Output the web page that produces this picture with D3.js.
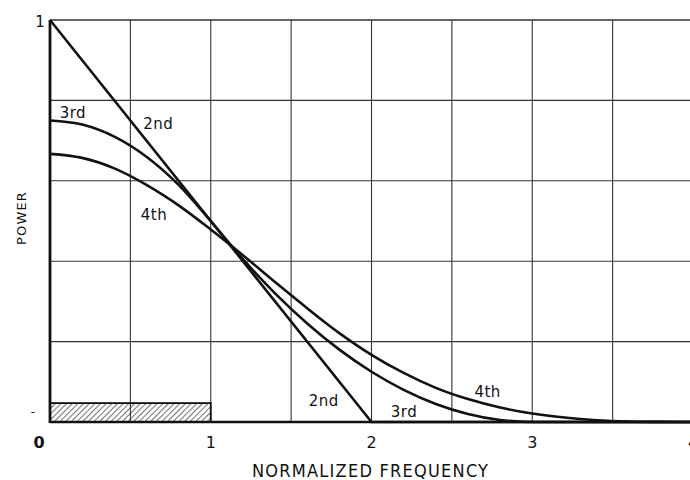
<!DOCTYPE html>
<html><head><meta charset="utf-8">
<script src="https://cdn.jsdelivr.net/npm/d3@7"></script>
<style>
body{margin:0;background:#fff;}
text{font-family:"DejaVu Sans",sans-serif;fill:#111;}
</style></head>
<body><svg id="c" width="690" height="480"></svg>
<script>
// Data
const second = [[0,1],[2,0],[4,0]];
const thirdX = [0,0.2,0.4,0.6,0.8,1.0,1.2,1.4,1.6,1.8,2.0,2.2,2.4,2.6,2.8,3.0,4.0];
const thirdY = [0.75,0.74,0.71,0.66,0.59,0.50,0.405,0.32,0.245,0.18,0.125,0.08,0.045,0.02,0.005,0,0];
const fourthX = [0,0.2,0.4,0.6,0.8,1.0,1.2,1.4,1.6,1.8,2.0,2.2,2.4,2.6,2.8,3.0,3.2,3.4,3.6,3.8,4.0];
const fourthY = [0.667,0.657,0.631,0.59,0.539,0.479,0.415,0.348,0.283,0.221,0.167,0.122,0.085,0.057,0.036,0.021,0.011,0.0045,0.0013,0.0002,0];
const xTicks = [0,1,2,3,4];
const xGrid = [0.5,1,1.5,2,2.5,3,3.5];
const yGrid = [0.2,0.4,0.6,0.8,1];
const passband = [0,1,0.047];
const labels = [
  {t:"3rd",x:0.06,y:0.755},{t:"2nd",x:0.58,y:0.728},{t:"4th",x:0.565,y:0.502},
  {t:"2nd",x:1.61,y:0.04},{t:"3rd",x:2.12,y:0.012},{t:"4th",x:2.64,y:0.063}
];

const svg = d3.select("#c");
const x = d3.scaleLinear().domain([0,4]).range([50,693]);
const y = d3.scaleLinear().domain([0,1]).range([422,20]);

// grid
svg.selectAll(".vg").data(xGrid).enter().append("line")
  .attr("x1",d=>x(d)).attr("x2",d=>x(d)).attr("y1",y(0)).attr("y2",y(1))
  .attr("stroke","#333").attr("stroke-width",1.1);
svg.selectAll(".hg").data(yGrid).enter().append("line")
  .attr("x1",x(0)).attr("x2",690).attr("y1",d=>y(d)).attr("y2",d=>y(d))
  .attr("stroke","#333").attr("stroke-width",d=>d===1?1.6:1.1);

// hatch
const defs = svg.append("defs");
const pat = defs.append("pattern").attr("id","hatch").attr("patternUnits","userSpaceOnUse")
  .attr("width",4).attr("height",4).attr("patternTransform","rotate(45)");
pat.append("line").attr("x1",0).attr("y1",0).attr("x2",0).attr("y2",4)
  .attr("stroke","#111").attr("stroke-width",1.2);
svg.append("rect").attr("x",x(passband[0])).attr("y",y(passband[2]))
  .attr("width",x(passband[1])-x(passband[0])).attr("height",y(0)-y(passband[2]))
  .attr("fill","url(#hatch)").attr("stroke","#111").attr("stroke-width",1.8);

// axes
svg.append("line").attr("x1",x(0)).attr("x2",x(0)).attr("y1",y(0)+1).attr("y2",y(1))
  .attr("stroke","#111").attr("stroke-width",2.8);
svg.append("line").attr("x1",x(0)).attr("x2",690).attr("y1",y(0)).attr("y2",y(0))
  .attr("stroke","#111").attr("stroke-width",2.4);

// curves
const line = d3.line().x(d=>x(d[0])).y(d=>y(d[1])).curve(d3.curveMonotoneX);
const straight = d3.line().x(d=>x(d[0])).y(d=>y(d[1]));
const series = [
  second,
  thirdX.map((v,i)=>[v,thirdY[i]]),
  fourthX.map((v,i)=>[v,fourthY[i]])
];
series.forEach((s,i)=>{
  svg.append("path").datum(s).attr("d", i===0 ? straight(s) : line(s))
    .attr("fill","none").attr("stroke","#111").attr("stroke-width",2.6);
});

// curve labels
svg.selectAll(".lab").data(labels).enter().append("text")
  .attr("x",d=>x(d.x)).attr("y",d=>y(d.y)).text(d=>d.t)
  .attr("font-size",15).attr("letter-spacing",0.5);

// tick labels
svg.selectAll(".xt").data(xTicks).enter().append("text")
  .attr("x",d=>d===0?x(d)-11:x(d)).attr("y",448).attr("text-anchor","middle")
  .attr("font-size",16).attr("font-weight",d=>d===0?"bold":"normal").text(d=>d);
svg.append("text").attr("x",40).attr("y",27).attr("text-anchor","middle")
  .attr("font-size",15).text("1");
svg.append("text").attr("x",33).attr("y",416).attr("text-anchor","middle")
  .attr("font-size",12).text("-");

// axis titles
svg.append("text").attr("x",252).attr("y",477)
  .style("font-family","'DejaVu Sans Condensed','DejaVu Sans',sans-serif")
  .attr("font-size",18).attr("textLength",236).attr("lengthAdjust","spacing")
  .text("NORMALIZED FREQUENCY");
svg.append("text").attr("transform","translate(26,218) rotate(-90)")
  .attr("text-anchor","middle")
  .attr("font-size",13).attr("letter-spacing",1.2)
  .text("POWER");
</script></body></html>
